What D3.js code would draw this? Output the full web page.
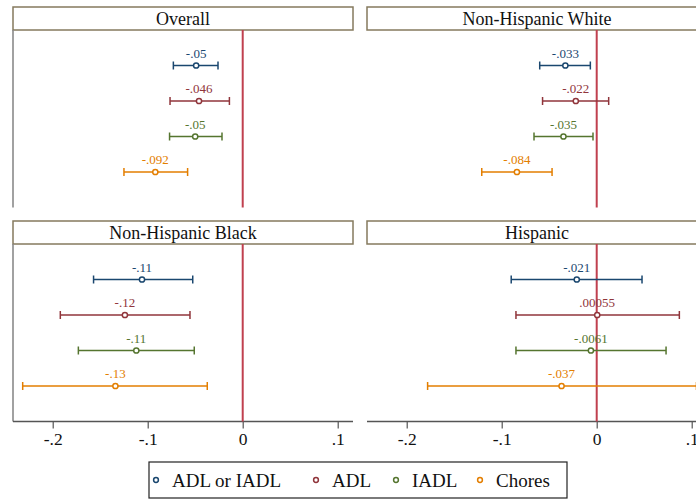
<!DOCTYPE html>
<html><head><meta charset="utf-8">
<script src="https://cdn.jsdelivr.net/npm/d3@7/dist/d3.min.js"></script>
<style>body{margin:0;background:#fff}svg{display:block}</style>
</head><body>
<script>
const panels = ["Overall","Non-Hispanic White","Non-Hispanic Black","Hispanic"];
const series = ["ADL or IADL","ADL","IADL","Chores"];
const colors = ["#1a476f","#90353b","#55752f","#e37e00"];
// estimates per panel (rows: series)
const est = [
  [-0.049,-0.046,-0.050,-0.092],
  [-0.033,-0.022,-0.035,-0.084],
  [-0.106,-0.124,-0.112,-0.134],
  [-0.021,0.00055,-0.0061,-0.037]
];
const lo = [
  [-0.073,-0.0765,-0.077,-0.125],
  [-0.060,-0.057,-0.066,-0.121],
  [-0.157,-0.192,-0.173,-0.2316],
  [-0.090,-0.085,-0.085,-0.178]
];
const hi = [
  [-0.026,-0.014,-0.0218,-0.058],
  [-0.0067,0.0126,-0.0039,-0.047],
  [-0.0526,-0.0555,-0.051,-0.0373],
  [0.0477,0.087,0.073,0.105]
];
const labels = [
  ["-.05","-.046","-.05","-.092"],
  ["-.033","-.022","-.035","-.084"],
  ["-.11","-.12","-.11","-.13"],
  ["-.021",".00055","-.0061","-.037"]
];
const xTicks = [-0.2,-0.1,0,0.1];
const xTickLabels = ["-.2","-.1","0",".1"];

const W=696,H=500;
const svg=d3.select("body").append("svg").attr("width",W).attr("height",H);
const font="'Liberation Serif','Times New Roman',serif";
const panelW=340, titleH=23, plotH=177.5;
const lefts=[13,367], tops=[7,221];

panels.forEach((name,pi)=>{
  const col=pi%2,row=Math.floor(pi/2);
  const x0=lefts[col], y0=tops[row];
  const g=svg.append("g");
  const x=d3.scaleLinear().domain([-0.2418,0.1161]).range([x0,x0+panelW]);
  const py0=y0+titleH, py1=py0+plotH;
  const y=d3.scaleLinear().domain([0,5]).range([py0,py1]);
  // title
  g.append("rect").attr("x",x0).attr("y",y0).attr("width",panelW).attr("height",titleH)
    .attr("fill","#fff").attr("stroke","#857a5e").attr("stroke-width",1.5);
  g.append("text").attr("x",x0+panelW/2).attr("y",y0+titleH/2+6).attr("text-anchor","middle")
    .attr("font-family",font).attr("font-size",18).attr("fill","#111").text(name);
  // left y axis line
  if(col===0){
    g.append("line").attr("x1",x0).attr("x2",x0).attr("y1",py0).attr("y2",py1)
      .attr("stroke","#8a8a8a").attr("stroke-width",1.6);
  }
  // bottom axis
  if(row===1){
    const ax=g.append("g").attr("transform",`translate(0,${py1})`)
      .call(d3.axisBottom(x).tickValues(xTicks).tickSize(7).tickPadding(4)
        .tickFormat((d,i)=>xTickLabels[i]));
    ax.select(".domain").attr("stroke","#555").attr("stroke-width",1.4).attr("d",`M${x0},0H${x0+panelW}`);
    ax.selectAll(".tick line").attr("stroke","#555").attr("stroke-width",1.2);
    ax.selectAll(".tick text").attr("font-family",font).attr("font-size",17.5).attr("fill","#111");
  }
  // zero line
  g.append("line").attr("x1",x(0)).attr("x2",x(0)).attr("y1",py0).attr("y2",py1)
    .attr("stroke","#c0404f").attr("stroke-width",2);
  // series
  series.forEach((s,si)=>{
    const yy=y(si+1), c=colors[si];
    const gs=g.append("g").attr("stroke",c).attr("stroke-width",1.5);
    gs.append("line").attr("x1",x(lo[pi][si])).attr("x2",x(hi[pi][si])).attr("y1",yy).attr("y2",yy);
    [lo[pi][si],hi[pi][si]].forEach(v=>{
      gs.append("line").attr("x1",x(v)).attr("x2",x(v)).attr("y1",yy-4).attr("y2",yy+4);
    });
    gs.append("circle").attr("cx",x(est[pi][si])).attr("cy",yy).attr("r",2.6).attr("fill","#fff");
    g.append("text").attr("x",x(est[pi][si])).attr("y",yy-8).attr("text-anchor","middle")
      .attr("font-family",font).attr("font-size",13).attr("fill",c).text(labels[pi][si]);
  });
});

// legend
const lg=svg.append("g");
lg.append("rect").attr("x",149).attr("y",462).attr("width",418).attr("height",36)
  .attr("fill","#fff").attr("stroke","#222").attr("stroke-width",1.2);
const legX=[156,316,396,480];
series.forEach((s,i)=>{
  lg.append("circle").attr("cx",legX[i]).attr("cy",480).attr("r",2.4).attr("fill","#fff")
    .attr("stroke",colors[i]).attr("stroke-width",1.5);
  lg.append("text").attr("x",legX[i]+16).attr("y",486.5).attr("font-family",font)
    .attr("font-size",19).attr("fill","#111").text(s);
});
</script>
</body></html>
